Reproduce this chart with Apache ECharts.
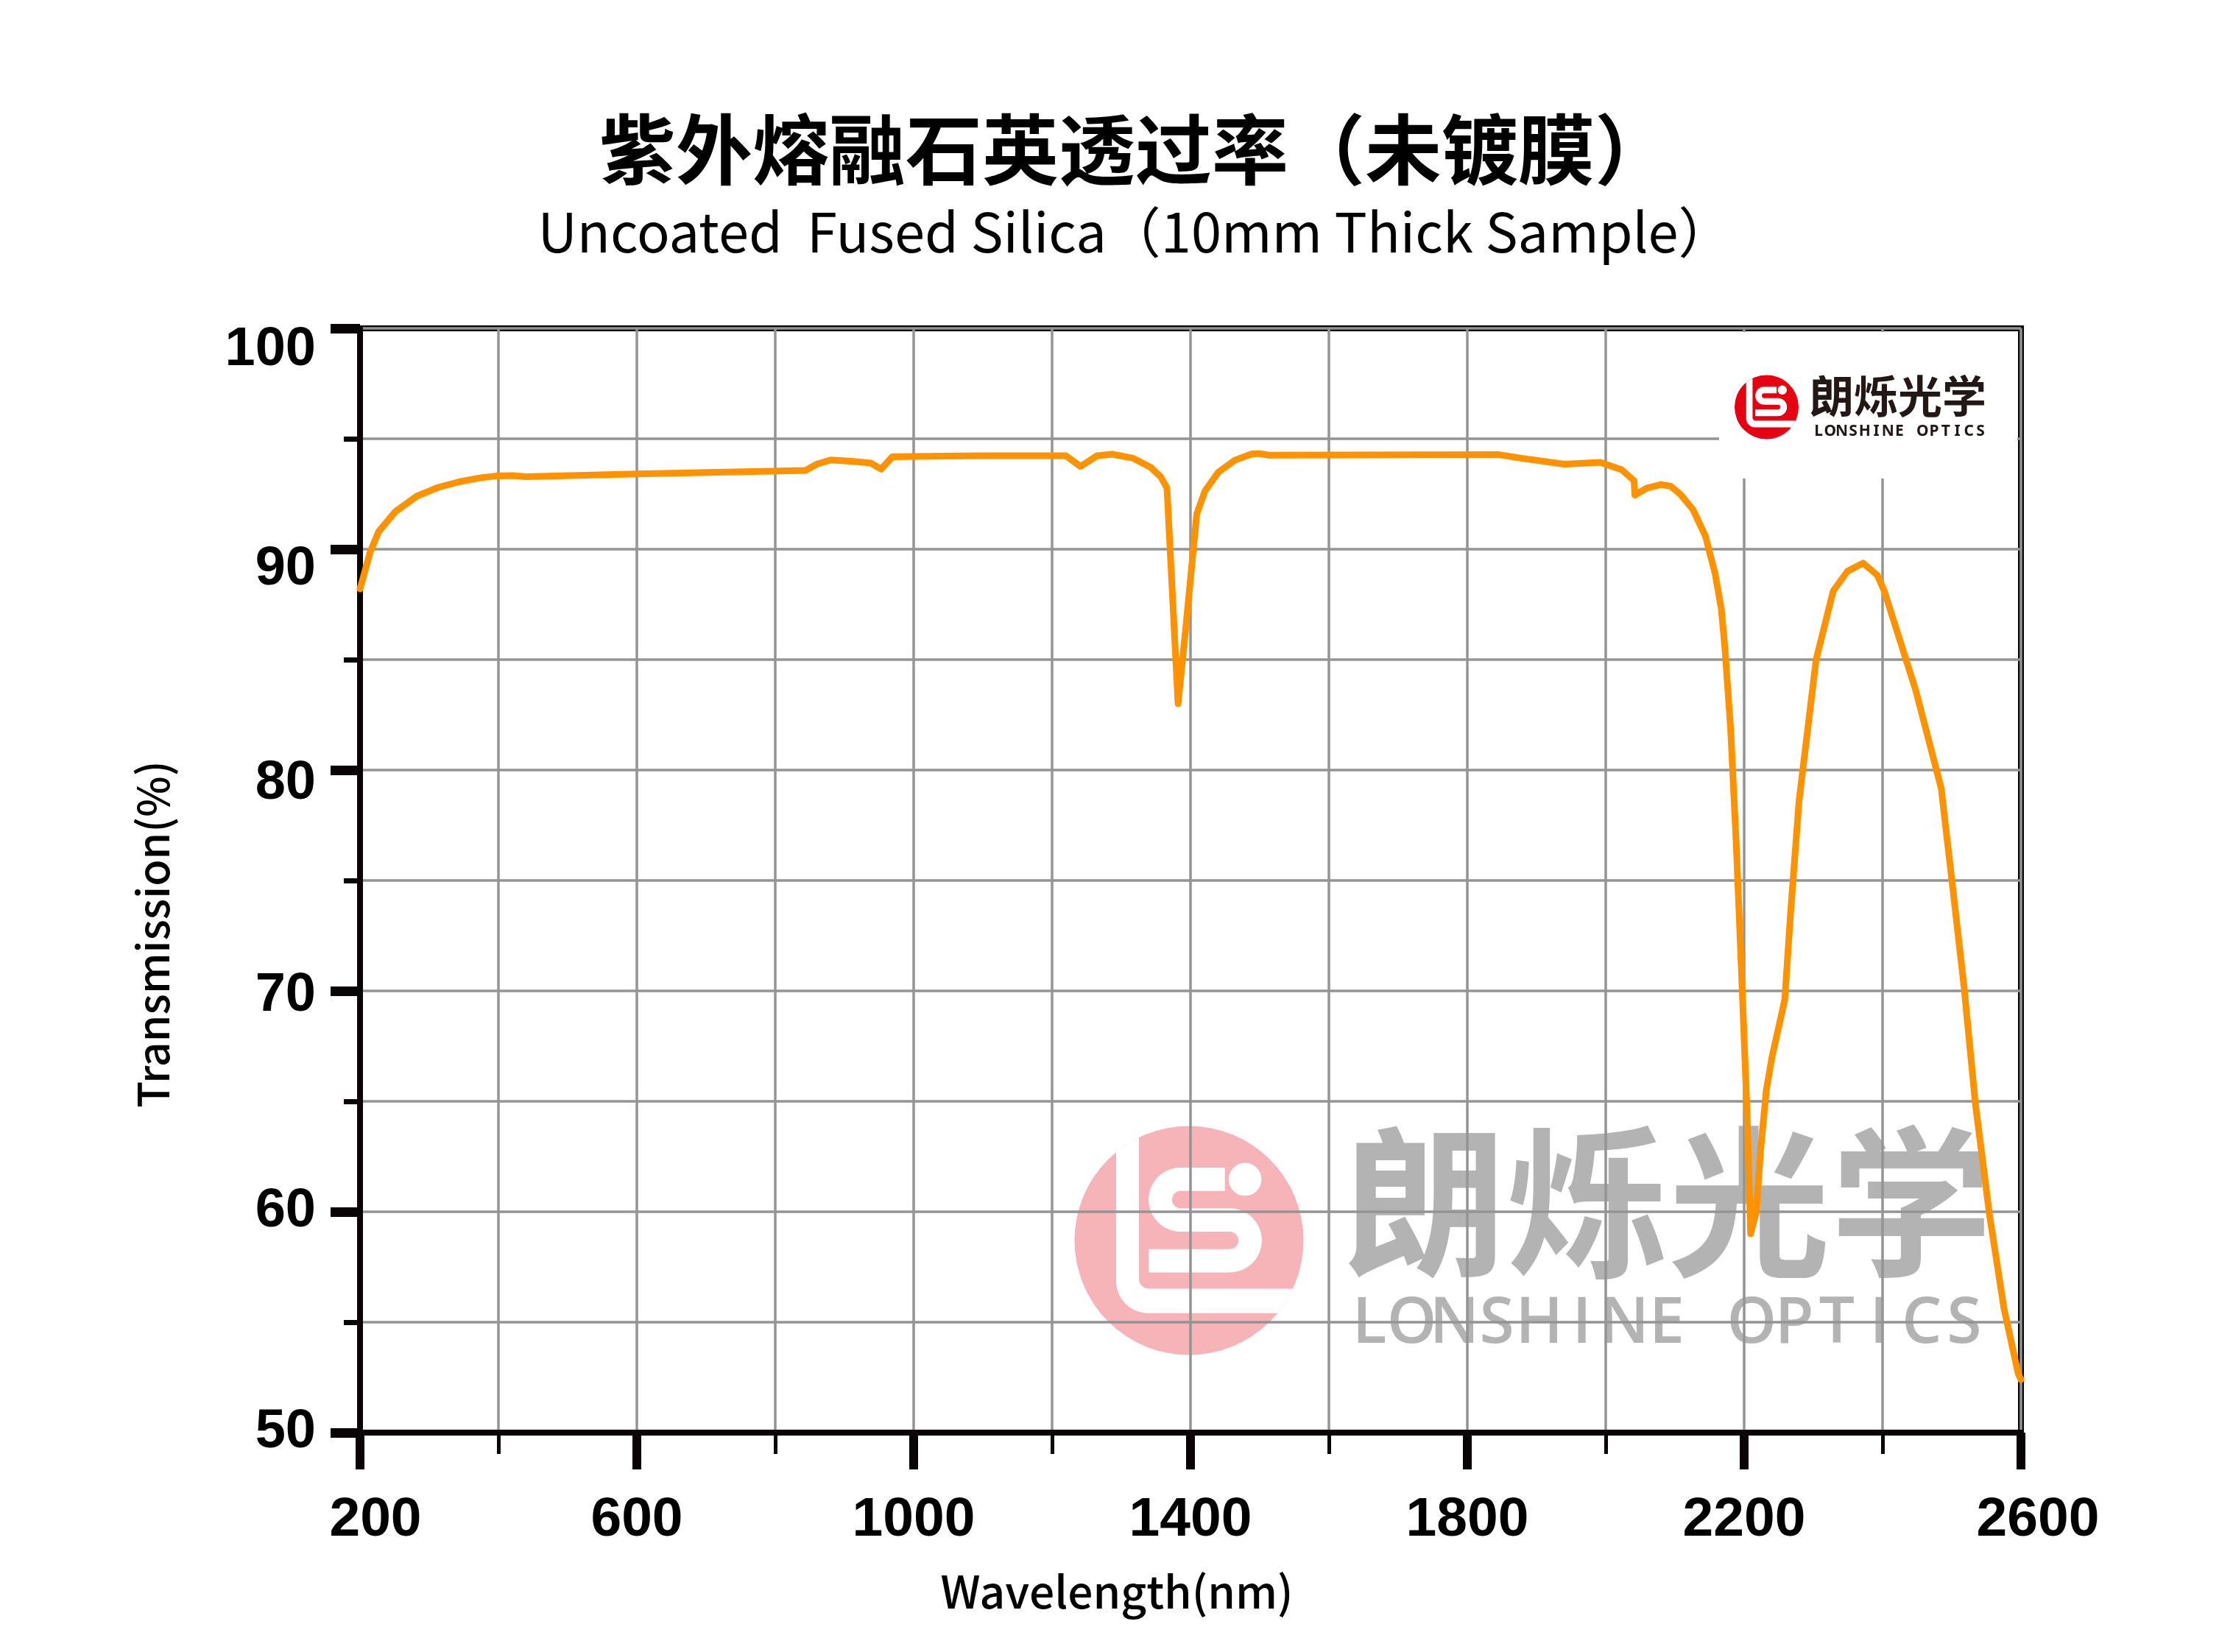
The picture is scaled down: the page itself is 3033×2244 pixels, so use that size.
<!DOCTYPE html>
<html>
<head>
<meta charset="utf-8">
<script src="https://cdn.jsdelivr.net/npm/echarts@6/dist/echarts.min.js"></script>
<style>html,body{margin:0;padding:0;background:#fff}#c{width:3033px;height:2244px}</style>
</head>
<body>
<div id="c"></div>
<script>
// ---- data ----
const wavelength = [200,215,227,251,282,313,343,373,398,420,440,600,844,860,880,910,938,953,969,1000,1100,1220,1241,1265,1287,1317,1342,1357,1366,1382,1394,1409,1421,1440,1464,1488,1500,1513,1846,1878,1940,1992,2023,2041,2042,2059,2080,2094,2108,2126,2144,2158,2167,2172,2180.5,2188.8,2197,2204.4,2209.4,2217.6,2223.8,2232,2240.2,2258.7,2267,2279.3,2304,2328.6,2349.2,2371.8,2392.3,2402.6,2447.8,2484.8,2501.3,2517.7,2534.2,2554.7,2575.3,2595.9,2600];
const transmission = [88.2,89.9,90.8,91.7,92.4,92.8,93.05,93.23,93.32,93.33,93.28,93.41,93.57,93.85,94.04,93.98,93.90,93.63,94.18,94.20,94.23,94.23,93.75,94.23,94.30,94.12,93.72,93.28,92.77,83.0,86.7,91.59,92.64,93.48,94.03,94.31,94.33,94.26,94.28,94.12,93.85,93.93,93.6,93.1,92.45,92.76,92.93,92.85,92.48,91.8,90.6,88.9,87.3,85.6,81.85,76.5,70.2,64.3,59.0,60.0,62.8,65.5,67.0,69.6,73.5,78.6,85.0,88.1,89.0,89.37,88.83,88.1,83.63,79.17,74.7,70.2,64.87,59.83,55.65,52.68,52.4];
const xTicks = [200,600,1000,1400,1800,2200,2600];
const yTicks = [50,60,70,80,90,100];
const titleText = '紫外熔融石英透过率（未镀膜）';
const subtitleText = 'Uncoated  Fused Silica（10mm Thick Sample）';
const xName = 'Wavelength(nm)';
const yName = 'Transmission(%)';
const brandCn = '朗烁光学';
const brandEn = 'LONSHINE OPTICS';

// ---- styles ----
const BLACK = '#0a0406';
const GRIDC = '#949494';
const ORANGE = '#ff9200';
const NUMFONT = 'Liberation Sans';
const CJK = 'Noto Sans CJK SC';
const xLabelShift = {200: 42, 2600: 46};
const yLabelShift = {100: 60, 90: 56, 80: 38, 70: 14};

const xRich = {}, yRich = {};
xTicks.forEach(v => { xRich['x' + v] = {fontSize: 75, fontWeight: 'bold', fontFamily: NUMFONT, color: '#000', padding: [0, 0, 0, xLabelShift[v] || 0]}; });
yTicks.forEach(v => { yRich['y' + v] = {fontSize: 74, fontWeight: 'bold', fontFamily: NUMFONT, color: '#000', padding: [yLabelShift[v] || 0, 0, 0, 0]}; });

// ---- logo geometry (unit circle radius 100) ----
function arcPts(cx, cy, r, a0, a1, n) {
  const pts = [];
  for (let i = 0; i <= n; i++) {
    const a = (a0 + (a1 - a0) * i / n) * Math.PI / 180;
    pts.push([cx + r * Math.cos(a), cy + r * Math.sin(a)]);
  }
  return pts;
}
const deg = (y, x) => Math.atan2(y, x) * 180 / Math.PI;
const L_PTS = [].concat(
  arcPts(0, 0, 100, deg(-77.1, -63.7) + 360, deg(-89.9, -43.8) + 360, 8),
  arcPts(-35.2, 33.5, 8.6, 180, 90, 6),
  arcPts(0, 0, 100, deg(42.1, 90.7), deg(63.5, 77.3), 6),
  arcPts(-35.7, 35.5, 28, 90, 180, 10)
);
const S_PTS = [].concat(
  [[31.3, -53.5]],
  arcPts(-7.3, -35.7, 17.8, -90, -270, 20),
  arcPts(35.6, -0.1, 17.8, -90, 90, 20),
  [[-35.2, 17.7]]
);
function logoMark(cx, cy, r, color, z) {
  const k = r / 100;
  const tr = p => [cx + p[0] * k, cy + p[1] * k];
  return [
    {type: 'circle', z: z, silent: true, shape: {cx: cx, cy: cy, r: r}, style: {fill: color}},
    {type: 'polygon', z: z, silent: true, shape: {points: L_PTS.map(tr)}, style: {fill: '#fff'}},
    {type: 'polyline', z: z, silent: true, shape: {points: S_PTS.map(tr)}, style: {fill: null, stroke: '#fff', lineWidth: 20.4 * k, lineCap: 'butt', lineJoin: 'round'}},
    {type: 'circle', z: z, silent: true, shape: {cx: cx + 48.9 * k, cy: cy - 53.4 * k, r: 14.4 * k}, style: {fill: '#fff'}}
  ];
}
function spacedLetters(text, x0, x1, y, fontSize, family, weight, color, z) {
  const n = text.length, step = (x1 - x0) / (n - 1), out = [];
  for (let i = 0; i < n; i++) {
    if (text[i] === ' ') continue;
    out.push({type: 'text', z: z, x: x0 + i * step, y: y, silent: true,
      style: {text: text[i], fontSize: fontSize, fontWeight: weight, fontFamily: family, fill: color, align: 'center', verticalAlign: 'middle'}});
  }
  return out;
}

const graphics = [].concat(
  // watermark (under grid lines)
  logoMark(1615, 1685, 155.5, '#f6b3b8', -2),
  [{type: 'text', z: -2, x: 2266, y: 1633, silent: true, style: {text: brandCn, fontSize: 220, fontWeight: 'bold', fontFamily: CJK, fill: '#b3b3b3', align: 'center', verticalAlign: 'middle'}}],
  spacedLetters(brandEn, 1860, 2668, 1799, 86, 'Open Sans', 600, '#b3b3b3', -2),
  // top-right logo on white patch
  [{type: 'rect', z: 50, silent: true, shape: {x: 2335, y: 451, width: 405, height: 199}, style: {fill: '#fff'}}],
  logoMark(2399.5, 553, 43.5, '#e60012', 51),
  [{type: 'text', z: 51, x: 2578, y: 538, silent: true, style: {text: brandCn, fontSize: 60, fontWeight: 'bold', fontFamily: CJK, fill: '#231815', align: 'center', verticalAlign: 'middle'}}],
  spacedLetters(brandEn, 2470, 2690, 586, 21, 'Noto Sans', 'bold', '#231815', 51)
);

const chart = echarts.init(document.getElementById('c'), null, {renderer: 'canvas', width: 3033, height: 2244});
chart.setOption({
  animation: false,
  backgroundColor: '#fff',
  title: {
    text: titleText,
    subtext: subtitleText,
    left: 1542,
    textAlign: 'center',
    top: 151,
    padding: 0,
    itemGap: 23,
    textStyle: {fontSize: 104, fontWeight: 'bold', fontFamily: CJK, color: '#000'},
    subtextStyle: {fontSize: 74, fontWeight: 'normal', fontFamily: CJK, color: '#000'}
  },
  grid: {left: 489, right: 288, top: 446, bottom: 298, show: true, borderWidth: 8, borderColor: BLACK, backgroundColor: 'transparent'},
  xAxis: {
    type: 'value',
    min: xTicks[0], max: xTicks[xTicks.length - 1], interval: xTicks[1] - xTicks[0],
    name: xName, nameLocation: 'middle', nameGap: 186,
    nameTextStyle: {fontSize: 60.5, fontWeight: 500, fontFamily: CJK, color: '#000', padding: [0, 200, 0, 0]},
    axisLine: {show: true, onZero: false, lineStyle: {color: BLACK, width: 8}},
    axisTick: {show: true, inside: false, length: 50, lineStyle: {color: BLACK, width: 12}},
    minorTick: {show: true, splitNumber: 2, length: 29, lineStyle: {color: BLACK, width: 5}},
    splitLine: {show: true, lineStyle: {color: GRIDC, width: 3.5}},
    minorSplitLine: {show: true, lineStyle: {color: GRIDC, width: 3.5}},
    axisLabel: {margin: 82, formatter: v => '{x' + v + '|' + v + '}', rich: xRich}
  },
  yAxis: {
    type: 'value',
    min: yTicks[0], max: yTicks[yTicks.length - 1], interval: yTicks[1] - yTicks[0],
    name: yName, nameLocation: 'middle', nameGap: 252, nameRotate: 90,
    nameTextStyle: {fontSize: 59, fontWeight: 500, fontFamily: CJK, color: '#000', padding: [0, 146, 0, 0]},
    axisLine: {show: true, onZero: false, lineStyle: {color: BLACK, width: 8}},
    axisTick: {show: true, inside: false, length: 40, lineStyle: {color: BLACK, width: 13}},
    minorTick: {show: true, splitNumber: 2, length: 22, lineStyle: {color: BLACK, width: 7}},
    splitLine: {show: true, lineStyle: {color: GRIDC, width: 3.5}},
    minorSplitLine: {show: true, lineStyle: {color: GRIDC, width: 3.5}},
    axisLabel: {margin: 60, formatter: v => '{y' + v + '|' + v + '}', rich: yRich}
  },
  graphic: graphics,
  series: [{
    type: 'line',
    data: wavelength.map((w, i) => [w, transmission[i]]),
    showSymbol: false,
    smooth: false,
    z: 5,
    lineStyle: {color: ORANGE, width: 9, join: 'round', cap: 'round'}
  }]
});
</script>
</body>
</html>
